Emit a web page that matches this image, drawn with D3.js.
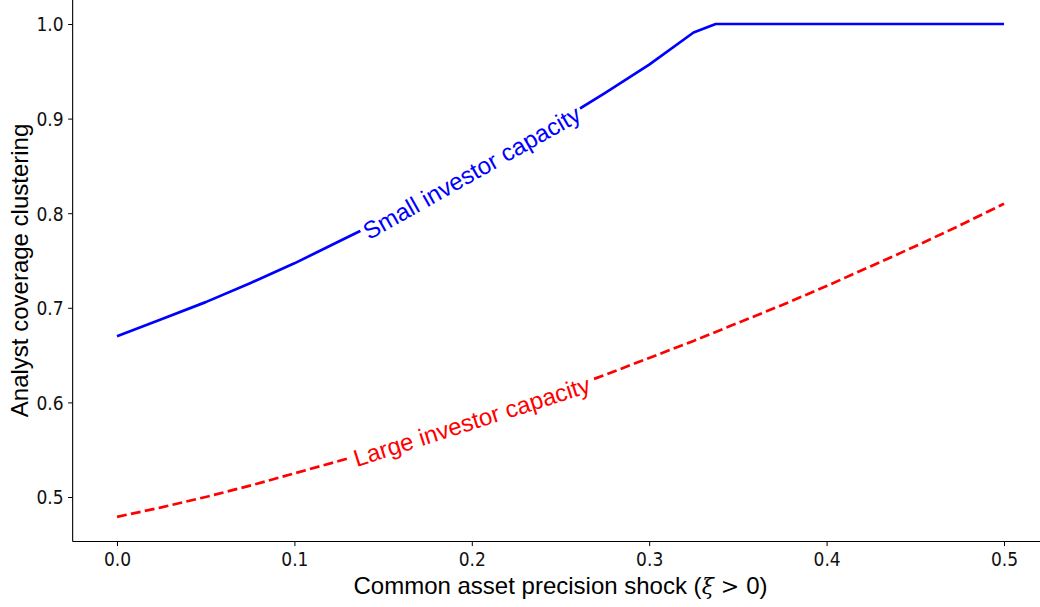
<!DOCTYPE html>
<html>
<head>
<meta charset="utf-8">
<script src="https://cdn.jsdelivr.net/npm/d3@7"></script>
<style>
  html, body { margin: 0; padding: 0; background: #fff; }
  svg { display: block; }
</style>
</head>
<body>
<svg id="chart" width="1040" height="607"></svg>
<script>
// ---- DATA ----
const smallX = [0, 0.025, 0.05, 0.075, 0.1, 0.125, 0.15, 0.175, 0.2, 0.225, 0.25, 0.275, 0.3, 0.325, 0.3375,
                0.35, 0.375, 0.4, 0.425, 0.45, 0.475, 0.5];
const smallY = [0.670, 0.688, 0.706, 0.726, 0.747, 0.770, 0.793, 0.817, 0.843, 0.870, 0.898, 0.927, 0.957, 0.991, 1.0,
                1.0, 1.0, 1.0, 1.0, 1.0, 1.0, 1.0];

const largeX = [0, 0.025, 0.05, 0.075, 0.1, 0.125, 0.15, 0.175, 0.2, 0.225, 0.25, 0.275, 0.3, 0.325,
                0.35, 0.375, 0.4, 0.425, 0.45, 0.475, 0.5];
const largeY = [0.479, 0.489, 0.500, 0.512, 0.525, 0.538, 0.551, 0.566, 0.580, 0.596, 0.612, 0.629, 0.647, 0.665,
                0.684, 0.703, 0.723, 0.744, 0.765, 0.787, 0.810];

const xTicks = [0.0, 0.1, 0.2, 0.3, 0.4, 0.5];
const yTicks = [0.5, 0.6, 0.7, 0.8, 0.9, 1.0];

const series = [
  { name: "Small investor capacity", xs: smallX, ys: smallY, color: "#0000ff", dash: null, labelAt: 0.2 },
  { name: "Large investor capacity", xs: largeX, ys: largeY, color: "#ff0000", dash: "9.9,4.3", labelAt: 0.2 }
];

// ---- SCALES ----
const x = d3.scaleLinear().domain([0, 0.5]).range([117, 1004]);
const y = d3.scaleLinear().domain([0.5, 1.0]).range([497, 24]);
const xMin = -0.025, xMax = 0.525;      // matplotlib-style 5% margins
const yMin = 0.4529, yMax = 1.0261;

const svg = d3.select("#chart");
const tickFont = "'DejaVu Sans Condensed', 'DejaVu Sans', sans-serif";
const labelFont = "'Liberation Sans', Arial, sans-serif";
const mathFont = "'DejaVu Serif', 'Liberation Serif', serif";

// ---- AXES ----
const xAxis = d3.axisBottom(x).tickValues(xTicks).tickFormat(d3.format(".1f")).tickSize(4.5).tickSizeOuter(0);
const yAxis = d3.axisLeft(y).tickValues(yTicks).tickFormat(d3.format(".1f")).tickSize(4.5).tickSizeOuter(0);

const gx = svg.append("g").attr("transform", `translate(0,${y(yMin)})`).call(xAxis);
gx.select(".domain").attr("d", `M${x(xMin)},0H${x(xMax)}`).attr("stroke", "#000").attr("stroke-width", 1.1);

const gy = svg.append("g").attr("transform", `translate(${x(xMin)},0)`).call(yAxis);
gy.select(".domain").attr("d", `M0,${y(yMax)}V${y(yMin)}`).attr("stroke", "#000").attr("stroke-width", 1.1);

[gx, gy].forEach(g => {
  g.selectAll(".tick line").attr("stroke", "#000").attr("stroke-width", 1);
  g.selectAll(".tick text")
    .attr("font-family", tickFont)
    .attr("font-size", 19)
    .attr("fill", "#111");
});
gx.selectAll(".tick text").attr("dy", "0.95em").attr("y", 6);
gy.selectAll(".tick text").attr("x", -9).attr("dy", "0.36em");

// ---- LINES ----
const line = d3.line().x(d => x(d[0])).y(d => y(d[1]));

series.forEach(s => {
  const pts = s.xs.map((v, i) => [v, s.ys[i]]);
  svg.append("path")
    .datum(pts)
    .attr("d", line)
    .attr("fill", "none")
    .attr("stroke", s.color)
    .attr("stroke-width", 2.7)
    .attr("stroke-dasharray", s.dash)
    .attr("stroke-linejoin", "round");
});

// ---- INLINE LABELS (text sits on the line, white box behind) ----
series.forEach(s => {
  const i = s.xs.indexOf(s.labelAt);
  const px = x(s.xs[i]), py = y(s.ys[i]);
  const dx = x(s.xs[i + 1]) - x(s.xs[i - 1]);
  const dy = y(s.ys[i + 1]) - y(s.ys[i - 1]);
  const ang = Math.atan2(dy, dx) * 180 / Math.PI;

  const g = svg.append("g").attr("transform", `translate(${px},${py}) rotate(${ang})`);
  const bg = g.append("rect").attr("fill", "#fff");
  const t = g.append("text")
    .attr("text-anchor", "middle")
    .attr("dy", "0.35em")
    .attr("font-family", labelFont)
    .attr("font-size", 24)
    .attr("fill", s.color)
    .text(s.name);
  const bb = t.node().getBBox();
  bg.attr("x", bb.x - 3).attr("y", bb.y).attr("width", bb.width + 6).attr("height", bb.height);
});

// ---- AXIS TITLES ----
const xl = svg.append("text")
  .attr("x", (x(xMin) + x(xMax)) / 2)
  .attr("y", 594)
  .attr("text-anchor", "middle")
  .attr("font-family", labelFont)
  .attr("font-size", 24)
  .attr("fill", "#000");
xl.append("tspan").text("Common asset precision shock (");
xl.append("tspan").attr("font-family", mathFont).attr("font-style", "italic").attr("font-size", 22).text("ξ");
xl.append("tspan").attr("font-family", mathFont).attr("font-size", 22).text("\u00a0>\u00a0");
xl.append("tspan").text("0)");

svg.append("text")
  .attr("transform", `translate(28,${(y(yMin) + y(yMax)) / 2}) rotate(-90)`)
  .attr("text-anchor", "middle")
  .attr("font-family", labelFont)
  .attr("font-size", 24)
  .attr("fill", "#000")
  .text("Analyst coverage clustering");
</script>
</body>
</html>
